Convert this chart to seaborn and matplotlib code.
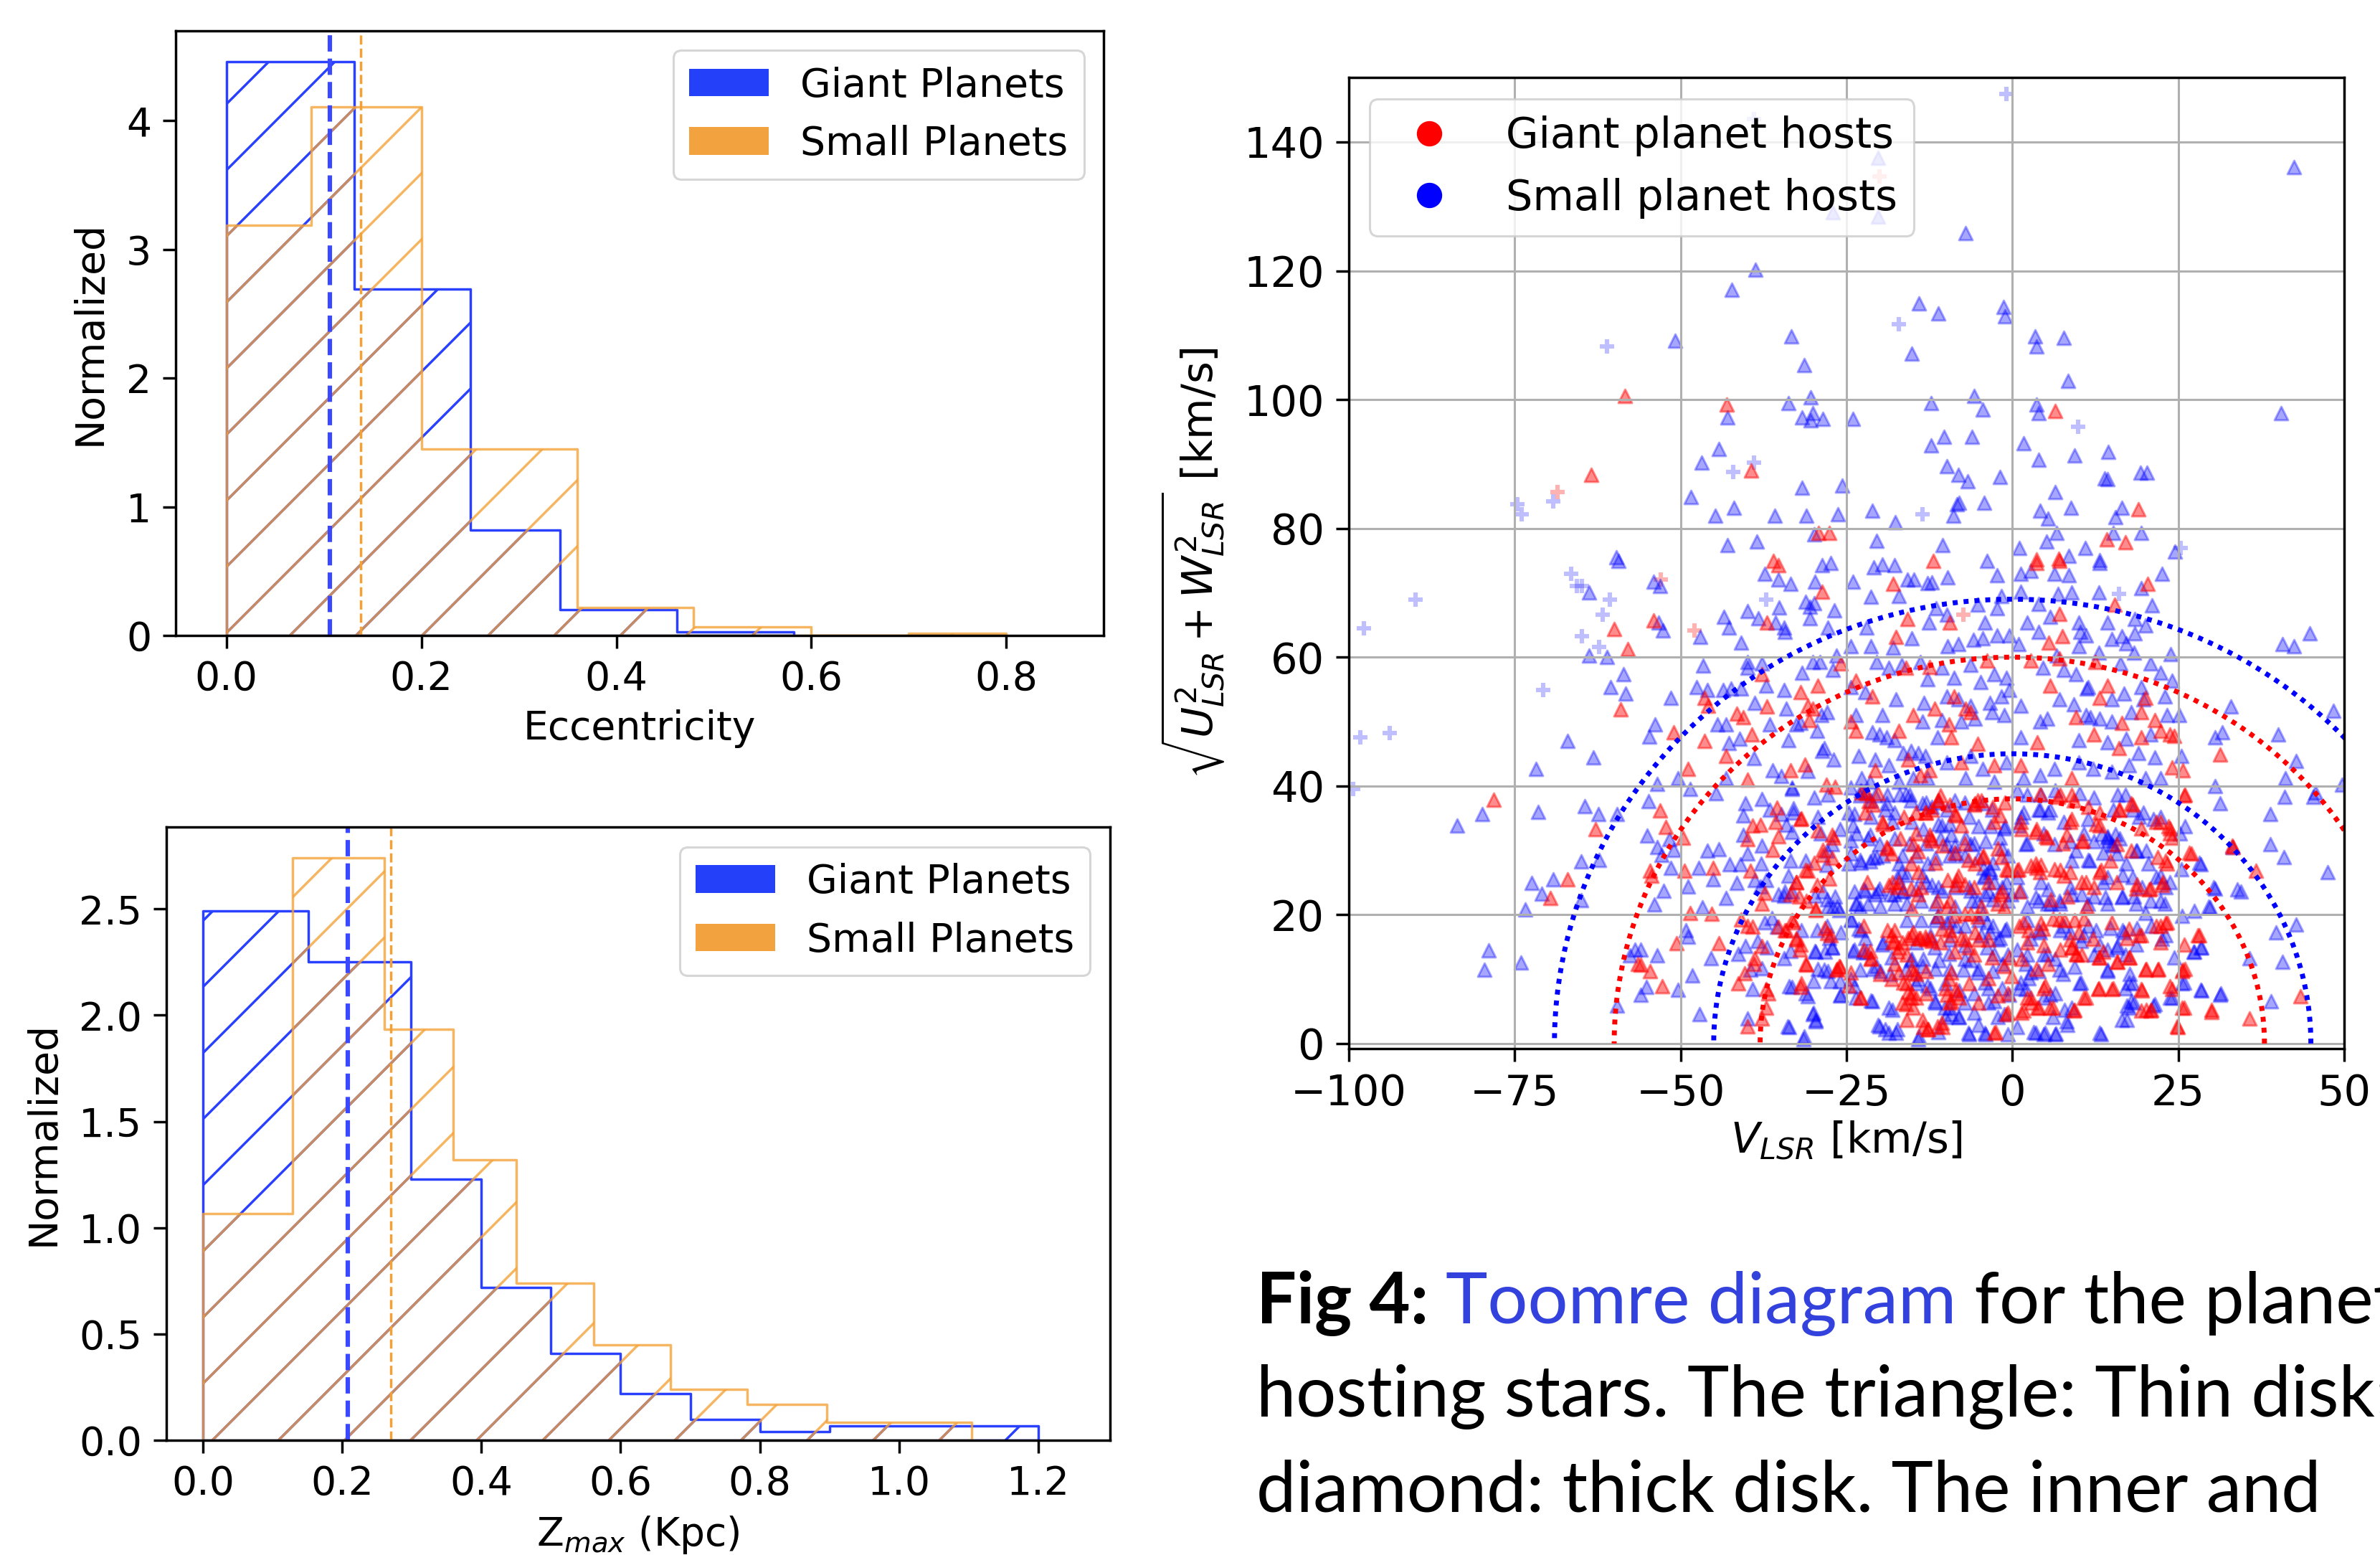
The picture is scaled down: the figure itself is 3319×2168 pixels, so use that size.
import numpy as np
import pandas as pd
import seaborn as sns
import matplotlib.pyplot as plt
from matplotlib.colors import to_rgba
from matplotlib.patches import Patch
from matplotlib.lines import Line2D

W, H, DPI = 3319, 2168, 553

# ---------------- histogram values (normalized heights)
ecc_giant_edges = [0.0, 0.131, 0.25, 0.342, 0.462, 0.582]
ecc_giant_heights = [4.46, 2.69, 0.82, 0.20, 0.03]
ecc_small_edges = [0.0, 0.087, 0.2, 0.36, 0.479, 0.6, 0.7, 0.8]
ecc_small_heights = [3.19, 4.11, 1.45, 0.22, 0.07, 0.0, 0.015]
ecc_median_giant = 0.106
ecc_median_small = 0.1375

zmax_giant_edges = [0.0, 0.151, 0.299, 0.4, 0.5, 0.6, 0.7, 0.8, 0.9, 1.0, 1.1, 1.2]
zmax_giant_heights = [2.49, 2.25, 1.23, 0.72, 0.41, 0.22, 0.097, 0.04, 0.067, 0.067, 0.067]
zmax_small_edges = [0.0, 0.129, 0.261, 0.36, 0.45, 0.561, 0.672, 0.782, 0.896, 1.104]
zmax_small_heights = [1.065, 2.74, 1.935, 1.32, 0.74, 0.45, 0.24, 0.17, 0.083]
zmax_median_giant = 0.208
zmax_median_small = 0.270

hist_labels = ['Giant Planets', 'Small Planets']

# ---------------- Toomre diagram: (V_LSR, sqrt(U^2+W^2)) in km/s
giant_thin_disk = [
    (-58.4, 100.6), (-63.5, 88.3), (-43.0, 99.2), (-39.4, 89.0), (-29.2, 79.3), (-27.6, 79.3),
    (6.5, 98.2), (19.0, 83.0), (14.2, 78.3), (17.1, 77.9), (3.6, 75.2), (7.0, 75.3), (-36.0, 75.0),
    (-78.2, 37.9), (-60.0, 64.4), (-58.0, 61.3), (-54.1, 65.7), (-59.0, 51.9), (-51.0, 48.3),
    (-62.8, 33.3), (-53.1, 36.2), (-52.2, 33.6), (-54.6, 26.8), (-54.4, 26.0), (-67.0, 25.5),
    (-69.6, 22.6), (-50.6, 15.6), (-56.4, 12.4), (-56.0, 12.2), (-54.6, 11.2), (-52.8, 8.9),
    (-35.3, 74.3), (-28.7, 70.2), (-37.0, 65.4), (-37.7, 57.3), (-46.4, 53.7), (-45.8, 52.4),
    (-37.0, 52.3), (-31.9, 54.6), (-29.3, 55.6), (-25.9, 59.0), (-41.5, 51.2), (-40.6, 50.7),
    (-30.8, 52.4), (-30.1, 52.0), (-30.6, 50.2), (-39.3, 48.0), (-46.4, 47.0), (-43.1, 44.6),
    (-48.9, 42.7), (-33.4, 42.4), (-31.3, 43.3), (-39.9, 41.0), (-28.0, 40.2), (-26.7, 39.9),
    (-35.5, 36.6), (-39.1, 33.9), (-38.0, 34.0), (-35.7, 34.4), (-31.9, 34.9), (-35.2, 32.2),
    (-39.9, 31.7), (-36.1, 30.1), (-49.6, 32.0), (-49.4, 26.8), (-45.1, 27.3), (-39.5, 26.8),
    (-37.3, 23.4), (-37.7, 21.7), (-48.5, 20.3), (-45.3, 20.2), (-32.6, 25.1), (-30.8, 26.8),
    (-29.8, 28.1), (-28.5, 29.3), (-26.9, 32.0), (-33.4, 23.2), (-31.0, 22.2), (-29.6, 20.7),
    (-27.6, 25.6), (-29.4, 24.6), (-22.7, 39.0), (-21.6, 37.6), (-22.2, 35.9), (-19.6, 34.4),
    (-16.9, 31.9), (-18.9, 30.5), (-18.2, 29.5), (-14.9, 31.0), (-14.2, 29.8), (-13.1, 35.9),
    (-12.1, 36.3), (-11.2, 37.8), (-10.8, 38.5), (-12.4, 32.4), (-12.1, 31.5), (-8.5, 35.4),
    (-7.7, 33.9), (-6.6, 28.5), (-5.6, 28.0), (-4.5, 29.0), (-1.6, 29.0), (-0.9, 27.1),
    (-2.7, 34.4), (-1.9, 35.4), (-5.6, 37.3), (-5.2, 37.8), (-8.1, 26.1), (-8.5, 24.6),
    (-11.3, 22.2), (-9.9, 21.2), (-1.9, 23.2), (-1.2, 21.2), (-18.6, 24.6), (-17.1, 25.1),
    (-15.3, 24.1), (-14.2, 23.2), (-21.8, 25.1), (-15.3, 28.0), (-14.2, 26.6),
    (-44.2, 15.6), (-41.3, 9.3), (-40.3, 10.9), (-38.9, 12.4), (-40.9, 19.3), (-39.9, 18.3),
    (-39.1, 18.1), (-35.2, 18.1), (-34.1, 17.6), (-33.0, 18.8), (-32.6, 16.4), (-31.9, 15.4),
    (-37.7, 15.1), (-38.8, 13.2), (-37.1, 8.5), (-36.8, 7.8), (-37.1, 5.6), (-37.7, 3.9),
    (-39.9, 2.7), (-31.9, 8.8), (-31.0, 12.2), (-26.5, 11.5), (-26.1, 12.0), (-27.9, 17.1),
    (-21.4, 14.4), (-21.3, 13.2), (-17.8, 15.9), (-17.1, 14.9), (-18.2, 16.8), (-15.7, 16.4),
    (-14.9, 17.3), (-13.9, 16.4), (-13.1, 16.6), (-12.1, 15.9), (-16.4, 9.5), (-15.7, 8.0),
    (-15.3, 7.1), (-14.9, 11.0), (-14.9, 5.6), (-16.0, 6.1), (-13.5, 3.7), (-12.8, 2.2),
    (-9.9, 7.6), (-9.2, 6.6), (-8.5, 8.5), (-7.7, 16.4), (-6.6, 14.9), (-5.6, 17.3),
    (-3.0, 13.4), (-1.2, 12.0), (-2.7, 1.7), (-0.9, 4.6), (-11.3, 2.7), (-10.6, 3.2),
    (-22.9, 7.1), (-24.3, 11.0), (-24.7, 9.0), (-10.6, 17.8), (-9.2, 16.8), (-6.3, 20.2),
    (-5.2, 19.7), (-9.2, 11.0), (-9.5, 10.0), (-17.1, 11.0), (-18.2, 10.0), (-0.5, 13.4),
    (-0.1, 10.5), (-18.0, 71.4), (-15.8, 65.9), (-9.4, 65.4), (-17.5, 63.1), (-16.0, 58.3),
    (-12.4, 58.5), (-3.8, 59.5), (-23.6, 56.3), (-21.1, 53.9), (-11.7, 52.0), (-8.8, 53.9),
    (-7.0, 52.0), (-6.3, 51.5), (-14.9, 51.0), (-24.3, 50.0), (-23.6, 48.5), (-17.1, 48.5),
    (-9.5, 49.5), (-9.2, 47.6), (-5.2, 46.6), (-2.7, 43.2), (-7.7, 43.7), (-20.7, 42.4),
    (-15.7, 44.1), (-12.4, 42.4), (-13.9, 41.7), (-11.9, 74.9),
    (3.7, 74.6), (7.1, 74.9), (20.4, 71.4), (15.4, 68.1), (7.1, 66.7), (5.5, 62.2), (7.5, 63.3),
    (2.8, 59.5), (7.1, 59.8), (12.5, 59.3), (5.7, 55.6), (14.3, 55.6), (13.2, 53.7), (20.1, 53.7),
    (9.6, 50.7), (16.5, 49.8), (19.4, 51.5), (21.5, 50.2), (22.3, 48.5), (23.7, 48.0), (24.4, 47.8),
    (3.8, 46.8), (12.3, 48.0), (16.1, 45.9), (19.4, 47.6), (31.3, 44.9), (24.1, 42.9), (25.7, 42.4),
    (8.9, 41.2), (1.3, 43.2), (25.9, 38.5), (27.0, 29.5), (36.7, 26.8), (33.3, 30.5), (4.2, 38.8),
    (6.9, 38.3), (9.3, 37.8), (11.4, 36.8), (13.2, 35.9), (16.1, 36.3), (17.9, 37.3), (22.3, 34.4),
    (23.7, 33.4), (24.1, 32.0), (1.3, 34.4), (3.5, 32.9), (5.3, 32.0), (8.2, 32.4), (8.9, 34.9),
    (10.7, 31.5), (13.2, 33.9), (15.8, 31.0), (17.9, 30.0), (19.4, 33.4), (21.9, 29.0), (23.3, 28.0),
    (1.0, 27.1), (2.8, 27.6), (3.5, 28.0), (4.2, 26.6), (6.4, 27.1), (7.8, 26.1), (11.1, 25.1),
    (13.2, 26.6), (15.8, 25.1), (18.7, 24.1), (20.8, 24.1), (22.6, 24.6), (1.7, 18.8), (4.6, 17.8),
    (7.1, 19.3), (10.0, 17.3), (12.2, 16.3), (15.0, 18.8), (17.6, 17.8), (19.4, 16.8), (22.3, 18.3),
    (23.3, 18.8), (28.0, 16.8), (25.7, 11.5), (25.9, 15.4), (25.9, 5.6), (24.8, 2.7), (30.0, 4.9),
    (35.8, 3.9), (43.4, 7.3), (20.1, 11.5), (21.9, 11.5), (17.6, 13.4), (15.8, 12.7), (13.2, 13.4),
    (9.6, 13.9), (8.9, 14.9), (4.9, 9.0), (2.8, 7.1), (1.7, 5.1), (3.8, 5.6), (5.7, 5.6), (9.3, 5.1),
    (11.1, 7.1), (12.9, 8.5), (15.0, 8.5), (19.4, 8.5), (19.4, 5.1), (20.8, 5.1), (24.1, 8.5),
]

# extra giant-host points read from the crowded core (-35 < V < 35, 0 < UW < 40)
giant_thin_core = [
    (-31.8, 35.0), (-29.3, 33.1), (-27.1, 32.4), (-28.5, 30.1), (-27.1, 28.8), (-31.1, 26.9),
    (-32.5, 25.1), (-29.6, 20.9), (-32.1, 22.8), (-22.0, 38.9), (-20.2, 38.9), (-21.0, 37.1),
    (-19.5, 34.1), (-16.3, 35.2), (-14.5, 35.9), (-13.0, 35.9), (-11.2, 37.8), (-9.4, 37.1),
    (-5.8, 37.1), (-4.7, 37.8), (-2.9, 36.7), (-1.1, 37.4), (-8.7, 35.6), (-18.8, 30.3),
    (-14.5, 32.6), (-12.3, 31.8), (-10.5, 30.7), (-8.7, 29.6), (-7.2, 31.1), (-4.3, 29.2),
    (-2.2, 30.3), (-11.6, 28.1), (-18.1, 25.1), (-17.3, 24.3), (-13.7, 24.3), (-9.7, 25.4),
    (-8.3, 25.4), (-7.2, 24.7), (-5.8, 24.3), (-3.6, 25.1), (-1.5, 23.6), (-4.7, 21.3),
    (-2.2, 21.7), (-9.4, 22.1), (-15.2, 20.9), (-0.7, 26.9),
    (-33.2, 19.1), (-34.3, 17.6), (-32.5, 16.1), (-32.0, 14.6), (-31.1, 12.3), (-28.2, 17.9),
    (-27.4, 16.8), (-26.4, 11.6), (-26.0, 11.9), (-31.8, 9.3), (-22.8, 7.1),
    (-22.4, 18.3), (-18.8, 17.6), (-17.7, 17.6), (-22.4, 14.6), (-21.3, 13.1), (-18.1, 15.7),
    (-16.6, 15.7), (-17.3, 14.2), (-15.2, 16.8), (-14.1, 16.4), (-13.0, 16.1), (-12.3, 16.4),
    (-10.8, 15.7), (-8.7, 14.2), (-7.2, 16.1), (-5.1, 16.1), (-3.6, 16.1), (-15.9, 13.8),
    (-15.2, 11.6), (-14.5, 10.8), (-13.0, 11.2), (-17.7, 12.3), (-19.9, 10.8), (-15.9, 9.3),
    (-15.2, 7.8), (-14.5, 7.1), (-16.6, 6.3), (-13.0, 7.8), (-10.1, 8.6), (-8.3, 7.8),
    (-9.4, 6.3), (-8.0, 7.1), (-6.5, 9.3), (-3.6, 10.1), (-2.2, 7.4), (-0.7, 7.8), (-5.1, 6.3),
    (-15.9, 3.7), (-13.4, 2.6), (-12.7, 2.2), (-10.5, 2.6), (-2.5, 1.8), (-0.7, 4.8),
    (-9.4, 17.6), (-5.8, 13.8), (-11.2, 19.8), (-8.7, 19.8), (-7.2, 20.2),
    (7.2, 38.6), (9.0, 38.6), (8.7, 34.4), (5.1, 32.2), (3.6, 33.3), (1.4, 33.3), (7.6, 31.1),
    (10.5, 31.4), (12.6, 34.1), (16.2, 36.3), (18.1, 37.1), (21.7, 34.4), (23.5, 33.7),
    (0.7, 26.9), (3.6, 27.3), (4.3, 27.7), (7.2, 26.9), (8.7, 26.6), (10.5, 25.1), (12.3, 24.3),
    (13.4, 26.9), (14.8, 28.4), (18.8, 24.7), (20.6, 23.9), (22.7, 25.1), (23.1, 28.4),
    (26.7, 29.6), (1.1, 23.6), (5.8, 22.4), (8.3, 22.8), (11.2, 21.3), (26.0, 38.6),
    (23.8, 32.6), (33.2, 30.7),
    (1.1, 18.3), (2.5, 17.6), (4.3, 18.7), (6.1, 19.4), (7.9, 19.1), (9.4, 19.1), (10.8, 19.4),
    (4.7, 15.3), (2.2, 15.7), (1.4, 13.1), (3.6, 11.6), (5.4, 12.3), (7.2, 14.6), (9.0, 14.9),
    (9.7, 13.8), (8.7, 16.1), (10.5, 13.8), (13.0, 13.4), (13.7, 14.2), (15.9, 12.7), (17.7, 13.4),
    (17.3, 16.4), (19.1, 16.8), (20.2, 11.6), (22.0, 11.6), (22.4, 15.7), (21.7, 18.3),
    (23.1, 18.7), (4.7, 8.6), (2.2, 7.1), (2.9, 6.3), (4.0, 5.6), (6.1, 5.6), (9.4, 5.2),
    (10.8, 7.1), (13.0, 8.6), (15.2, 8.6), (19.5, 8.2), (20.2, 5.2), (20.9, 5.2), (23.8, 8.9),
    (25.6, 11.2), (26.0, 11.6), (25.6, 5.6), (24.9, 2.6), (30.0, 5.2), (28.2, 16.8), (1.4, 4.8),
]

small_thin_disk = [
    (-50.8, 109.1), (-59.7, 75.5), (-20.2, 137.6), (-20.2, 128.4), (-27.0, 129.1), (-7.0, 125.8),
    (-38.7, 120.2), (-42.3, 117.0), (-14.1, 114.9), (-11.2, 113.4), (-1.3, 114.4), (-1.1, 112.9),
    (-33.3, 109.8), (-15.1, 107.1), (-31.4, 105.4), (-42.9, 97.2), (-33.7, 99.5), (-30.4, 100.4),
    (-31.7, 97.2), (-30.4, 96.8), (-30.1, 97.9), (-28.5, 97.0), (-24.0, 97.0), (-12.2, 99.5),
    (-5.8, 100.6), (-4.4, 98.5), (-10.3, 94.2), (-12.2, 92.9), (-6.1, 94.2), (-44.2, 92.3),
    (-46.8, 90.2), (-48.4, 84.9), (-31.7, 86.3), (-25.6, 86.6), (-9.9, 89.7), (-8.1, 88.3),
    (-6.7, 87.3), (-1.9, 88.0), (-8.3, 83.7), (-8.0, 84.0), (-4.2, 84.0), (-44.8, 82.0),
    (-42.0, 83.2), (-35.8, 82.0), (-31.0, 82.0), (-26.3, 82.2), (-21.1, 82.7), (-17.6, 81.0),
    (-8.9, 82.0), (-29.9, 79.1), (-42.9, 77.4), (-38.5, 78.0), (-20.5, 78.1), (-10.5, 77.4),
    (42.4, 136.1), (3.4, 109.8), (3.6, 108.2), (7.8, 109.6), (8.4, 102.9), (3.6, 99.2),
    (4.0, 97.9), (40.5, 97.9), (1.7, 93.2), (4.0, 90.7), (9.4, 91.3), (14.5, 91.9), (13.9, 87.8),
    (14.4, 87.6), (19.3, 88.7), (20.3, 88.7), (6.5, 85.6), (4.2, 82.7), (5.4, 81.5), (8.8, 83.2),
    (16.5, 83.2), (15.5, 81.7), (6.7, 79.3), (15.2, 79.3), (19.4, 79.3), (5.2, 78.0), (11.0, 76.9),
    (1.1, 76.9), (24.5, 76.4), (8.5, 75.7), (13.2, 75.1),
    (-59.3, 74.9), (-63.8, 70.0), (-63.8, 60.3), (-61.1, 60.0), (-54.1, 71.7), (-53.1, 71.0),
    (-53.3, 65.4), (-52.6, 64.1), (-58.6, 57.4), (-60.5, 55.4), (-58.3, 54.4), (-51.5, 53.7),
    (-53.8, 49.6), (-54.7, 47.7), (-67.0, 47.0), (-63.1, 44.4), (-71.8, 42.6), (-53.5, 40.3),
    (-50.4, 41.2), (-79.9, 35.6), (-83.7, 33.9), (-71.5, 36.0), (-64.4, 36.9), (-62.4, 35.6),
    (-59.6, 35.6), (-54.8, 37.6), (-55.0, 32.3), (-53.5, 30.5), (-52.9, 29.3), (-51.7, 31.7),
    (-51.0, 30.1), (-51.5, 27.3), (-65.0, 28.3), (-62.3, 28.5), (-72.4, 24.9), (-69.2, 25.5),
    (-70.9, 23.3), (-73.4, 20.8), (-65.0, 22.3), (-52.5, 23.7), (-53.9, 21.6), (-78.9, 14.5),
    (-79.6, 11.5), (-74.1, 12.6), (-56.9, 14.6), (-56.0, 14.6), (-57.6, 13.7), (-53.5, 13.7),
    (-55.1, 8.8), (-56.0, 7.6), (-50.4, 8.3), (-59.6, 5.9),
    (-37.3, 72.9), (-35.3, 72.0), (-33.4, 71.4), (-29.7, 71.7), (-28.7, 74.3), (-27.4, 74.6),
    (-47.0, 63.1), (-43.5, 66.3), (-42.7, 64.6), (-39.9, 67.1), (-38.3, 66.0), (-35.7, 65.4),
    (-35.1, 67.7), (-34.3, 63.9), (-34.4, 64.6), (-31.2, 68.6), (-29.9, 68.4), (-30.5, 67.8),
    (-30.5, 66.0), (-26.8, 67.3), (-27.8, 64.6), (-40.9, 62.3), (-46.6, 58.7), (-39.9, 59.3),
    (-39.9, 58.3), (-37.7, 59.0), (-37.1, 55.6), (-47.6, 55.4), (-46.0, 54.9), (-43.6, 54.9),
    (-42.4, 55.1), (-40.9, 55.1), (-38.8, 52.9), (-34.4, 54.9), (-31.7, 57.6), (-30.1, 59.3),
    (-29.0, 59.3), (-27.0, 58.0), (-26.5, 60.2), (-44.4, 49.6), (-43.1, 49.6), (-36.6, 49.6),
    (-34.1, 52.0), (-32.6, 49.5), (-31.9, 49.8), (-28.8, 51.0), (-27.9, 51.5), (-29.4, 48.5),
    (-42.7, 46.7), (-41.1, 47.3), (-33.7, 47.1), (-38.9, 44.3), (-36.1, 42.4), (-34.8, 41.5),
    (-30.8, 42.3), (-28.7, 45.4), (-28.3, 45.9), (-26.9, 44.1), (-43.1, 41.2), (-48.5, 39.5),
    (-44.7, 38.9), (-33.2, 39.8), (-40.2, 37.3), (-40.6, 35.4), (-37.7, 38.0), (-36.6, 36.3),
    (-34.8, 35.6), (-33.0, 35.9), (-34.1, 34.0), (-40.6, 32.4), (-37.7, 30.7), (-46.0, 30.0),
    (-44.2, 30.2), (-39.9, 29.5), (-47.3, 27.3), (-42.6, 27.8), (-41.0, 27.8), (-37.9, 27.9),
    (-45.1, 25.5), (-48.9, 24.4), (-41.5, 24.9), (-38.8, 25.4), (-38.0, 24.4), (-37.1, 25.4),
    (-43.1, 22.6), (-46.7, 21.2), (-33.7, 26.1), (-27.9, 30.0), (-27.2, 31.0), (-35.2, 23.2),
    (-34.4, 22.9), (-29.7, 22.9), (-27.9, 22.4), (-27.0, 21.2), (-26.1, 20.7),
    (-24.3, 39.8), (-22.9, 38.5), (-22.2, 39.0), (-20.7, 38.5), (-24.7, 35.9), (-24.0, 33.9),
    (-18.9, 37.3), (-17.8, 35.9), (-16.0, 38.8), (-15.3, 37.8), (-21.4, 32.4), (-20.0, 31.0),
    (-24.3, 31.5), (-22.9, 28.5), (-21.4, 28.3), (-20.4, 29.0), (-13.5, 37.3), (-12.1, 36.8),
    (-9.9, 36.3), (-10.6, 33.9), (-9.2, 32.4), (-7.0, 32.0), (-6.3, 31.0), (-4.1, 26.1),
    (-3.4, 27.1), (-2.7, 25.1), (-1.9, 32.0), (-1.2, 33.4), (-4.5, 37.3), (-3.0, 36.3),
    (-9.9, 31.0), (-8.5, 29.5), (-12.1, 24.6), (-10.6, 23.7), (-6.3, 23.7), (-5.2, 22.2),
    (-4.1, 23.2), (-0.9, 25.1), (-0.1, 23.2), (-17.8, 23.2), (-16.4, 23.7), (-22.2, 23.7),
    (-20.7, 23.2), (-20.0, 24.1), (-23.6, 21.7), (-22.9, 21.2), (-24.7, 28.0), (-24.3, 29.5),
    (-17.1, 28.0), (-16.7, 26.6), (-13.5, 26.1), (-12.8, 28.0),
    (-49.2, 17.6), (-48.9, 16.6), (-45.4, 13.3), (-48.2, 10.6), (-39.1, 8.5), (-41.3, 13.9),
    (-40.2, 15.1), (-37.3, 18.8), (-36.2, 19.5), (-35.5, 18.1), (-38.4, 15.9), (-37.0, 14.9),
    (-34.4, 13.2), (-33.4, 14.4), (-39.5, 11.5), (-37.7, 11.7), (-39.9, 3.9), (-47.1, 4.6),
    (-33.9, 2.7), (-31.5, 0.7), (-30.1, 4.6), (-29.6, 3.4), (-30.8, 7.3), (-33.2, 8.8),
    (-29.7, 14.4), (-28.3, 11.5), (-27.2, 14.9), (-29.4, 17.6), (-27.9, 18.3), (-27.6, 16.4),
    (-25.8, 17.3), (-24.3, 19.3), (-23.2, 17.8), (-22.2, 16.4), (-24.0, 14.4), (-22.5, 14.1),
    (-19.6, 15.4), (-18.2, 13.4), (-20.4, 12.0), (-16.0, 11.5), (-15.3, 12.9), (-14.2, 10.0),
    (-13.5, 12.0), (-12.8, 9.0), (-11.7, 6.6), (-10.2, 5.6), (-9.2, 4.6), (-8.1, 4.1),
    (-7.4, 11.5), (-6.3, 12.9), (-5.2, 11.0), (-4.1, 9.5), (-3.4, 17.3), (-1.9, 16.4),
    (-0.9, 17.8), (-2.7, 6.6), (-1.2, 4.6), (-0.5, 7.6), (-20.0, 2.7), (-18.6, 1.7),
    (-17.5, 1.7), (-14.2, 0.7), (-6.6, 1.7), (-4.1, 1.7), (-18.6, 5.6), (-21.1, 6.6),
    (-23.6, 7.1), (-25.8, 7.6), (-24.3, 10.0), (-22.9, 11.5), (-11.3, 19.7), (-9.9, 18.8),
    (-8.5, 18.3), (-4.5, 20.2), (-3.8, 18.8), (-11.7, 14.9), (-11.0, 12.9), (-9.5, 13.9),
    (-3.8, 14.9), (-2.7, 13.9),
    (-24.0, 71.7), (-21.3, 69.4), (-17.1, 69.5), (-15.8, 72.0), (-14.8, 72.0), (-12.8, 71.5),
    (-12.1, 71.6), (-9.7, 72.4), (-2.3, 72.7), (-20.9, 73.9), (-19.6, 74.4), (-17.7, 74.3),
    (-3.8, 74.9), (-1.6, 69.5), (-2.3, 67.6), (-11.5, 67.6), (-12.6, 65.4), (-9.9, 66.6),
    (-5.2, 68.1), (-4.1, 65.4), (-22.0, 64.6), (-24.3, 61.7), (-21.3, 61.7), (-18.0, 61.5),
    (-15.1, 62.9), (-9.7, 61.7), (-8.1, 62.0), (-5.9, 62.7), (-4.5, 62.9), (-2.3, 63.4),
    (-0.5, 63.4), (-20.4, 59.3), (-18.6, 58.3), (-16.7, 58.8), (-13.9, 59.3), (-12.8, 56.6),
    (-10.6, 58.3), (-8.8, 56.8), (-6.3, 58.8), (-4.8, 56.1), (-2.7, 57.3), (-0.9, 56.8),
    (-24.3, 55.4), (-22.2, 54.6), (-19.6, 51.0), (-17.5, 53.4), (-13.3, 52.9), (-9.9, 53.9),
    (-8.1, 53.4), (-6.3, 52.4), (-3.4, 52.9), (-1.6, 53.9), (-0.5, 54.9), (-21.1, 48.3),
    (-20.0, 48.0), (-18.9, 47.6), (-17.8, 47.1), (-15.3, 45.4), (-14.2, 45.1), (-11.3, 47.6),
    (-23.2, 44.6), (-20.7, 44.1), (-18.6, 43.2), (-16.4, 45.1), (-13.1, 44.6), (-9.9, 43.7),
    (-6.3, 44.6), (-4.5, 42.7), (-0.9, 43.7), (-22.7, 41.2), (-21.4, 40.7), (-17.1, 40.7),
    (-14.9, 41.2), (-12.8, 41.2), (-7.0, 41.2), (-2.7, 40.7), (-23.6, 51.0), (-13.5, 50.0),
    (-10.6, 50.2), (-7.7, 50.0), (-5.6, 50.5), (-3.0, 51.5), (-1.2, 51.0),
    (1.3, 72.9), (2.8, 73.4), (6.4, 72.9), (8.5, 72.7), (13.2, 74.6), (22.6, 72.9), (1.3, 70.2),
    (4.0, 68.3), (6.9, 69.8), (8.9, 70.0), (13.1, 70.0), (19.4, 70.7), (21.0, 68.0), (2.2, 65.4),
    (5.7, 66.3), (10.0, 65.4), (14.3, 65.4), (18.5, 65.9), (20.1, 64.9), (4.0, 63.9), (10.2, 63.9),
    (11.1, 63.4), (15.0, 62.8), (16.5, 63.2), (17.2, 62.1), (18.5, 63.7), (1.0, 62.0), (6.7, 60.2),
    (10.0, 61.7), (13.1, 60.7), (18.3, 60.7), (23.9, 60.5), (4.6, 58.3), (7.8, 58.0), (9.6, 57.3),
    (11.2, 55.1), (16.3, 59.0), (20.8, 59.0), (22.3, 57.6), (24.1, 56.3), (1.3, 52.4), (7.1, 53.4),
    (9.3, 52.7), (11.4, 55.4), (15.0, 53.4), (16.8, 54.4), (19.4, 55.4), (19.7, 53.4), (23.0, 53.9),
    (25.2, 51.0), (4.2, 50.0), (5.3, 50.5), (11.1, 51.0), (11.8, 50.7), (13.2, 50.5), (15.0, 50.0),
    (17.9, 51.5), (20.8, 48.0), (23.3, 51.0), (1.3, 47.6), (10.0, 47.1), (14.3, 46.8), (17.2, 47.3),
    (19.0, 45.1), (21.5, 44.4), (25.5, 44.6), (30.6, 47.6), (31.6, 48.3), (40.1, 48.0), (42.8, 43.9),
    (41.2, 41.2), (32.9, 52.3), (44.8, 63.7), (40.7, 62.0), (42.5, 61.7), (48.4, 51.7), (1.7, 41.2),
    (4.2, 41.7), (6.4, 42.7), (10.0, 43.7), (12.2, 42.7), (15.0, 42.2), (17.6, 43.2), (20.1, 41.2),
    (22.3, 41.2), (30.6, 40.0), (45.7, 39.0), (49.7, 40.2),
    (31.3, 37.3), (41.0, 38.3), (45.4, 38.3), (38.9, 35.6), (38.9, 31.0), (40.9, 29.0), (47.5, 26.6),
    (30.6, 24.1), (34.4, 23.6), (29.8, 21.2), (28.4, 27.8), (33.1, 30.5), (25.5, 27.1), (1.7, 35.9),
    (4.2, 36.3), (5.7, 36.3), (2.0, 31.0), (6.4, 31.0), (9.6, 30.0), (11.4, 28.5), (14.3, 32.0),
    (15.0, 31.0), (15.8, 29.5), (17.2, 28.0), (18.7, 30.0), (20.5, 28.0), (22.3, 26.1), (23.7, 25.1),
    (1.3, 23.7), (3.5, 22.7), (5.3, 21.7), (7.1, 22.2), (8.9, 23.2), (11.4, 21.7), (14.0, 22.7),
    (16.5, 22.7), (18.7, 21.7), (20.8, 22.2), (23.0, 21.7), (13.5, 32.5), (14.5, 31.5), (15.5, 32.5),
    (1.0, 33.9), (11.4, 34.9), (7.8, 34.4), (19.7, 35.9),
    (2.8, 16.3), (4.2, 17.3), (7.8, 18.3), (10.3, 15.9), (13.2, 15.4), (15.8, 14.9), (18.7, 15.4),
    (22.6, 16.3), (28.4, 14.9), (24.4, 13.4), (27.3, 14.2), (5.3, 13.9), (2.0, 12.4), (7.1, 11.5),
    (10.3, 9.5), (14.3, 11.5), (17.6, 9.5), (17.9, 6.6), (16.5, 3.7), (17.6, 5.6), (21.5, 6.1),
    (24.1, 7.1), (25.9, 9.5), (28.4, 8.3), (31.3, 7.6), (39.0, 6.6), (40.7, 12.7), (42.8, 18.5),
    (39.8, 17.3), (35.8, 13.2), (4.9, 1.7), (6.6, 1.5), (3.5, 1.7), (13.2, 1.7), (8.2, 3.4),
    (2.8, 11.0), (1.3, 9.5), (2.0, 8.5), (5.7, 7.6), (8.9, 5.6), (11.4, 18.3), (16.8, 17.3),
    (20.1, 20.3),
]

# extra small-host points read from the crowded core
small_thin_core = [
    (-33.2, 39.5), (-29.8, 38.2), (-27.8, 38.6), (-33.0, 36.5), (-29.3, 35.2), (-33.2, 32.9),
    (-28.9, 32.6), (-26.0, 33.3), (-31.1, 28.4), (-33.4, 28.4), (-28.0, 27.7), (-34.3, 23.6),
    (-33.2, 23.6), (-28.5, 23.6), (-26.7, 22.8), (-26.4, 21.3), (-27.8, 21.3),
    (-22.8, 39.3), (-21.3, 37.8), (-18.8, 38.6), (-17.0, 38.6), (-15.5, 38.6), (-13.0, 37.4),
    (-11.2, 37.4), (-8.7, 37.8), (-7.2, 37.4), (-23.8, 35.6), (-21.3, 35.2), (-19.1, 36.3),
    (-18.1, 34.4), (-15.2, 34.4), (-13.4, 33.3), (-11.2, 34.1), (-9.4, 34.1), (-6.5, 35.2),
    (-5.1, 33.7), (-3.3, 33.7), (-1.1, 33.7), (-23.5, 32.6), (-21.7, 31.8), (-17.7, 31.8),
    (-15.5, 31.1), (-13.0, 31.1), (-10.8, 31.8), (-8.7, 30.7), (-5.8, 31.1), (-4.0, 31.4),
    (-1.5, 30.3), (-22.8, 28.1), (-21.0, 28.8), (-19.5, 29.2), (-16.6, 29.2), (-14.5, 29.2),
    (-11.6, 28.8), (-9.4, 29.2), (-7.2, 29.2), (-5.1, 28.8), (-2.9, 28.1), (-0.7, 29.2),
    (-23.8, 23.6), (-22.4, 23.9), (-20.2, 23.6), (-18.4, 23.2), (-16.6, 23.6), (-14.5, 23.9),
    (-13.0, 25.1), (-11.2, 24.3), (-8.7, 24.3), (-6.5, 24.3), (-4.3, 25.8), (-3.6, 23.6),
    (-1.5, 24.3), (-23.5, 21.7), (-21.7, 21.7), (-19.9, 21.3), (-17.7, 21.7), (-15.9, 21.7),
    (-13.7, 22.1), (-11.6, 21.7), (-8.7, 21.3), (-6.1, 22.1), (-2.9, 22.4), (-0.7, 22.1),
    (-17.3, 25.8), (-15.9, 26.2), (-4.3, 27.3), (-3.3, 26.6),
    (-31.8, 17.6), (-29.6, 14.2), (-28.2, 14.2), (-27.1, 14.9), (-29.3, 11.6), (-27.8, 11.2),
    (-30.0, 9.7), (-27.4, 9.7), (-26.0, 9.7), (-33.6, 8.9), (-31.1, 7.8), (-26.0, 7.4),
    (-30.0, 4.8), (-29.6, 3.7), (-33.6, 2.6), (-31.4, 1.1), (-23.8, 8.9),
    (-24.2, 19.1), (-22.8, 17.6), (-23.8, 14.6), (-22.0, 14.2), (-19.5, 15.7), (-21.0, 11.6),
    (-19.9, 11.2), (-18.4, 10.8), (-18.1, 5.2), (-20.2, 2.9), (-19.1, 2.2), (-17.3, 2.2),
    (-14.1, 1.1), (-21.3, 6.7), (-15.9, 19.1), (-13.7, 19.1), (-11.6, 19.1), (-9.4, 19.1),
    (-7.2, 18.3), (-5.1, 19.1), (-2.9, 18.3), (-1.1, 17.6), (-14.5, 15.7), (-12.3, 16.8),
    (-9.4, 16.1), (-7.2, 15.3), (-4.7, 16.8), (-2.2, 16.1), (-0.7, 13.8), (-15.2, 13.1),
    (-13.4, 13.1), (-11.6, 11.6), (-9.4, 11.6), (-7.2, 13.1), (-5.1, 11.6), (-2.9, 11.2),
    (-1.5, 12.3), (-14.5, 9.3), (-12.3, 8.6), (-10.1, 9.3), (-8.0, 8.2), (-5.8, 7.8),
    (-3.6, 8.6), (-1.5, 8.6), (-11.6, 6.3), (-9.4, 5.6), (-7.2, 6.3), (-5.8, 4.8), (-3.6, 6.3),
    (-2.2, 4.1), (-10.1, 4.1), (-8.0, 4.1), (-5.1, 2.9), (-11.2, 1.8), (-6.5, 1.4), (-4.0, 1.4),
    (-0.7, 1.4),
    (0.7, 39.3), (2.2, 38.6), (4.0, 36.3), (5.4, 35.9), (1.4, 35.2), (4.7, 32.6), (2.2, 31.1),
    (8.7, 31.4), (10.8, 32.6), (12.3, 31.4), (14.4, 32.2), (15.2, 30.7), (16.2, 31.8), (18.8, 29.9),
    (20.2, 29.9), (13.7, 29.6), (11.6, 28.4), (9.0, 28.4), (15.2, 36.3), (18.1, 36.3), (19.1, 35.2),
    (21.3, 34.8), (22.4, 35.2), (15.9, 38.6), (17.0, 38.6), (12.3, 38.2), (10.1, 38.9), (6.5, 39.3),
    (4.3, 38.6), (0.7, 25.8), (4.3, 25.1), (5.4, 23.9), (8.7, 24.3), (10.5, 23.2), (12.3, 22.8),
    (14.4, 25.8), (13.7, 25.1), (16.6, 26.2), (18.1, 25.8), (19.5, 24.3), (21.7, 25.8), (23.1, 24.3),
    (22.4, 22.1), (16.6, 22.8), (18.4, 22.8), (14.4, 21.7), (5.8, 21.7), (4.0, 22.1), (7.2, 21.7),
    (2.2, 21.3), (25.3, 32.6), (26.0, 33.7), (28.2, 28.1), (30.3, 24.3), (33.9, 23.9), (29.6, 21.3),
    (27.4, 20.6), (25.6, 19.8),
    (2.2, 19.1), (4.0, 17.6), (7.2, 17.6), (8.7, 17.2), (10.8, 16.8), (12.6, 17.6), (14.8, 17.9),
    (16.6, 17.6), (18.8, 17.9), (20.9, 18.3), (23.1, 16.8), (0.7, 14.6), (2.2, 13.8), (4.7, 13.8),
    (6.5, 13.1), (7.6, 10.8), (9.4, 11.9), (12.3, 13.8), (14.4, 14.6), (15.9, 15.3), (17.0, 13.8),
    (14.4, 11.2), (17.7, 10.8), (18.1, 9.3), (17.0, 8.6), (17.3, 5.9), (18.4, 6.3), (21.3, 5.9),
    (23.8, 7.1), (10.1, 9.3), (6.5, 7.8), (4.7, 7.1), (1.1, 8.6), (2.5, 10.1), (4.0, 11.2),
    (7.9, 5.2), (8.3, 2.9), (6.1, 4.1), (3.2, 1.8), (4.7, 1.4), (6.5, 1.4), (13.4, 1.4),
    (17.3, 3.7), (0.7, 2.6), (27.4, 14.2), (28.5, 14.9), (25.6, 9.3), (28.5, 8.2), (31.4, 7.8),
]

giant_thick_disk = [(-68.5, 85.6), (-53.0, 72.0), (-20.0, 134.7), (-47.9, 64.2), (-7.4, 66.6)]

small_thick_disk = [
    (-61.1, 108.3), (-69.2, 84.2), (-74.6, 83.7), (-73.9, 82.2), (-38.9, 143.6), (-17.1, 111.7),
    (-42.1, 88.8), (-38.9, 90.2), (-13.5, 82.2), (-0.9, 147.5), (9.9, 95.8), (25.4, 76.9),
    (-89.9, 68.9), (-97.7, 64.5), (-98.3, 47.6), (-93.8, 48.2), (-99.3, 39.5), (-66.5, 72.9),
    (-65.6, 71.1), (-64.9, 71.0), (-60.7, 68.9), (-61.7, 66.6), (-64.9, 63.3), (-62.3, 61.6),
    (-70.7, 54.9), (-37.1, 68.9), (16.1, 69.8),
]

# dotted velocity circles (radius in km/s)
giant_circle_radii = [60, 38]
small_circle_radii = [69, 45]

scatter_labels = ['Giant planet hosts', 'Small planet hosts']

caption_lines = [
    [('Fig 4: ', 'bold', 'black'), ('Toomre diagram', 'normal', '#3342dd'),
     (' for the planet-', 'normal', 'black')],
    [('hosting stars. The triangle: Thin disk;', 'normal', 'black')],
    [('diamond: thick disk. The inner and', 'normal', 'black')],
]

# ---------------- styling
plt.rcParams.update({
    'font.family': 'DejaVu Sans',
    'axes.linewidth': 0.45,
    'xtick.major.size': 2.4, 'ytick.major.size': 2.4,
    'xtick.major.width': 0.45, 'ytick.major.width': 0.45,
    'xtick.major.pad': 2.0, 'ytick.major.pad': 2.0,
    'hatch.linewidth': 0.45,
    'patch.linewidth': 0.4,
    'legend.edgecolor': '0.8',
})

giant_col = '#2a40ff'
small_col = '#f4a035'

fig = plt.figure(figsize=(W / DPI, H / DPI), dpi=DPI)


def step_hist(ax, edges, heights, color, alpha):
    mids = [(a + b) / 2 for a, b in zip(edges[:-1], edges[1:])]
    sns.histplot(x=mids, weights=heights, bins=list(edges), element='step', fill=True,
                 color=color, facecolor='none', edgecolor=to_rgba(color, alpha),
                 hatch='//', linewidth=0.45, ax=ax)


def hist_panel(rect, g_edges, g_h, s_edges, s_h, g_med, s_med, xlabel, xlim, ylim, yticks, xticks):
    ax = fig.add_axes(rect)
    step_hist(ax, g_edges, g_h, giant_col, 1.0)
    step_hist(ax, s_edges, s_h, small_col, 0.78)
    ax.axvline(g_med, color='#3a48ff', ls='--', lw=0.8)
    ax.axvline(s_med, color=small_col, ls='--', lw=0.45)
    ax.set_xlim(*xlim)
    ax.set_ylim(*ylim)
    ax.set_xticks(xticks)
    ax.set_yticks(yticks)
    ax.tick_params(labelsize=7.2)
    ax.set_xlabel(xlabel, fontsize=7.2, labelpad=2)
    ax.set_ylabel('Normalized', fontsize=7.2, labelpad=3)
    handles = [Patch(facecolor='#2440f8', edgecolor='none', label=hist_labels[0]),
               Patch(facecolor='#f2a33f', edgecolor='none', label=hist_labels[1])]
    ax.legend(handles=handles, loc='upper right', fontsize=7.2)
    return ax


hist_panel([0.0738, 0.5913, 0.390, 0.389], ecc_giant_edges, ecc_giant_heights,
           ecc_small_edges, ecc_small_heights, ecc_median_giant, ecc_median_small,
           'Eccentricity', (-0.052, 0.9), (0, 4.70), [0, 1, 2, 3, 4],
           [0.0, 0.2, 0.4, 0.6, 0.8])
hist_panel([0.0699, 0.0738, 0.3965, 0.3944], zmax_giant_edges, zmax_giant_heights,
           zmax_small_edges, zmax_small_heights, zmax_median_giant, zmax_median_small,
           'Z$_{max}$ (Kpc)', (-0.0525, 1.303), (0, 2.886),
           [0.0, 0.5, 1.0, 1.5, 2.0, 2.5], [0.0, 0.2, 0.4, 0.6, 0.8, 1.0, 1.2])

# ---------------- Toomre diagram
ax3 = fig.add_axes([0.5667, 0.3256, 0.4182, 0.6245])
cols = ['V_LSR', 'UW_LSR']
df_gthin = pd.DataFrame(giant_thin_disk + giant_thin_core, columns=cols)
df_sthin = pd.DataFrame(small_thin_disk + small_thin_core, columns=cols)
df_gthick = pd.DataFrame(giant_thick_disk, columns=cols)
df_sthick = pd.DataFrame(small_thick_disk, columns=cols)

sns.scatterplot(data=df_sthick, x='V_LSR', y='UW_LSR', color='blue', marker='+',
                s=7, linewidth=0.8, alpha=0.25, ax=ax3, legend=False)
sns.scatterplot(data=df_gthick, x='V_LSR', y='UW_LSR', color='red', marker='+',
                s=7, linewidth=0.8, alpha=0.3, ax=ax3, legend=False)
sns.scatterplot(data=df_sthin, x='V_LSR', y='UW_LSR', color='blue', marker='^',
                s=6, linewidth=0.4, edgecolor='face', alpha=0.35, ax=ax3, legend=False)
sns.scatterplot(data=df_gthin, x='V_LSR', y='UW_LSR', color='red', marker='^',
                s=6, linewidth=0.4, edgecolor='face', alpha=0.45, ax=ax3, legend=False)

theta = np.linspace(0, np.pi, 400)
for r in small_circle_radii:
    ax3.plot(r * np.cos(theta), r * np.sin(theta), color='blue', lw=0.9,
             ls=(0, (1, 1.2)))
for r in giant_circle_radii:
    ax3.plot(r * np.cos(theta), r * np.sin(theta), color='red', lw=0.9,
             ls=(0, (1, 1.2)))

ax3.set_xlim(-100, 50)
ax3.set_ylim(-0.8, 150)
ax3.set_xticks([-100, -75, -50, -25, 0, 25, 50])
ax3.set_yticks([0, 20, 40, 60, 80, 100, 120, 140])
ax3.grid(True, color='#b0b0b0', lw=0.4)
ax3.tick_params(labelsize=7.7)
ax3.set_xlabel('$V_{LSR}$ [km/s]', fontsize=7.7, labelpad=1)
ax3.set_ylabel(r'$\sqrt{U_{LSR}^2 + W_{LSR}^2}$ [km/s]', fontsize=7.7, labelpad=3)
leg_handles = [Line2D([], [], marker='o', ls='none', color='red', markersize=3.6, label=scatter_labels[0]),
               Line2D([], [], marker='o', ls='none', color='blue', markersize=3.6, label=scatter_labels[1])]
ax3.legend(handles=leg_handles, loc='upper left', fontsize=7.7)

# ---------------- caption text
renderer = fig.canvas.get_renderer()
probe = fig.text(0, 0, caption_lines[2][0][0], fontsize=12, family='Lato')
cap_size = 12 * 1486 / probe.get_window_extent(renderer).width
probe.remove()

cap_x0 = 1752 / W
cap_baselines = [1 - 1845 / H, 1 - 1975 / H, 1 - 2107 / H]
for pieces, yb in zip(caption_lines, cap_baselines):
    x = cap_x0
    for txt, weight, color in pieces:
        t = fig.text(x, yb, txt, fontsize=cap_size, family='Lato', weight=weight,
                     color=color, va='baseline')
        x += t.get_window_extent(renderer).width / W

fig.savefig('out.png', dpi=DPI)
